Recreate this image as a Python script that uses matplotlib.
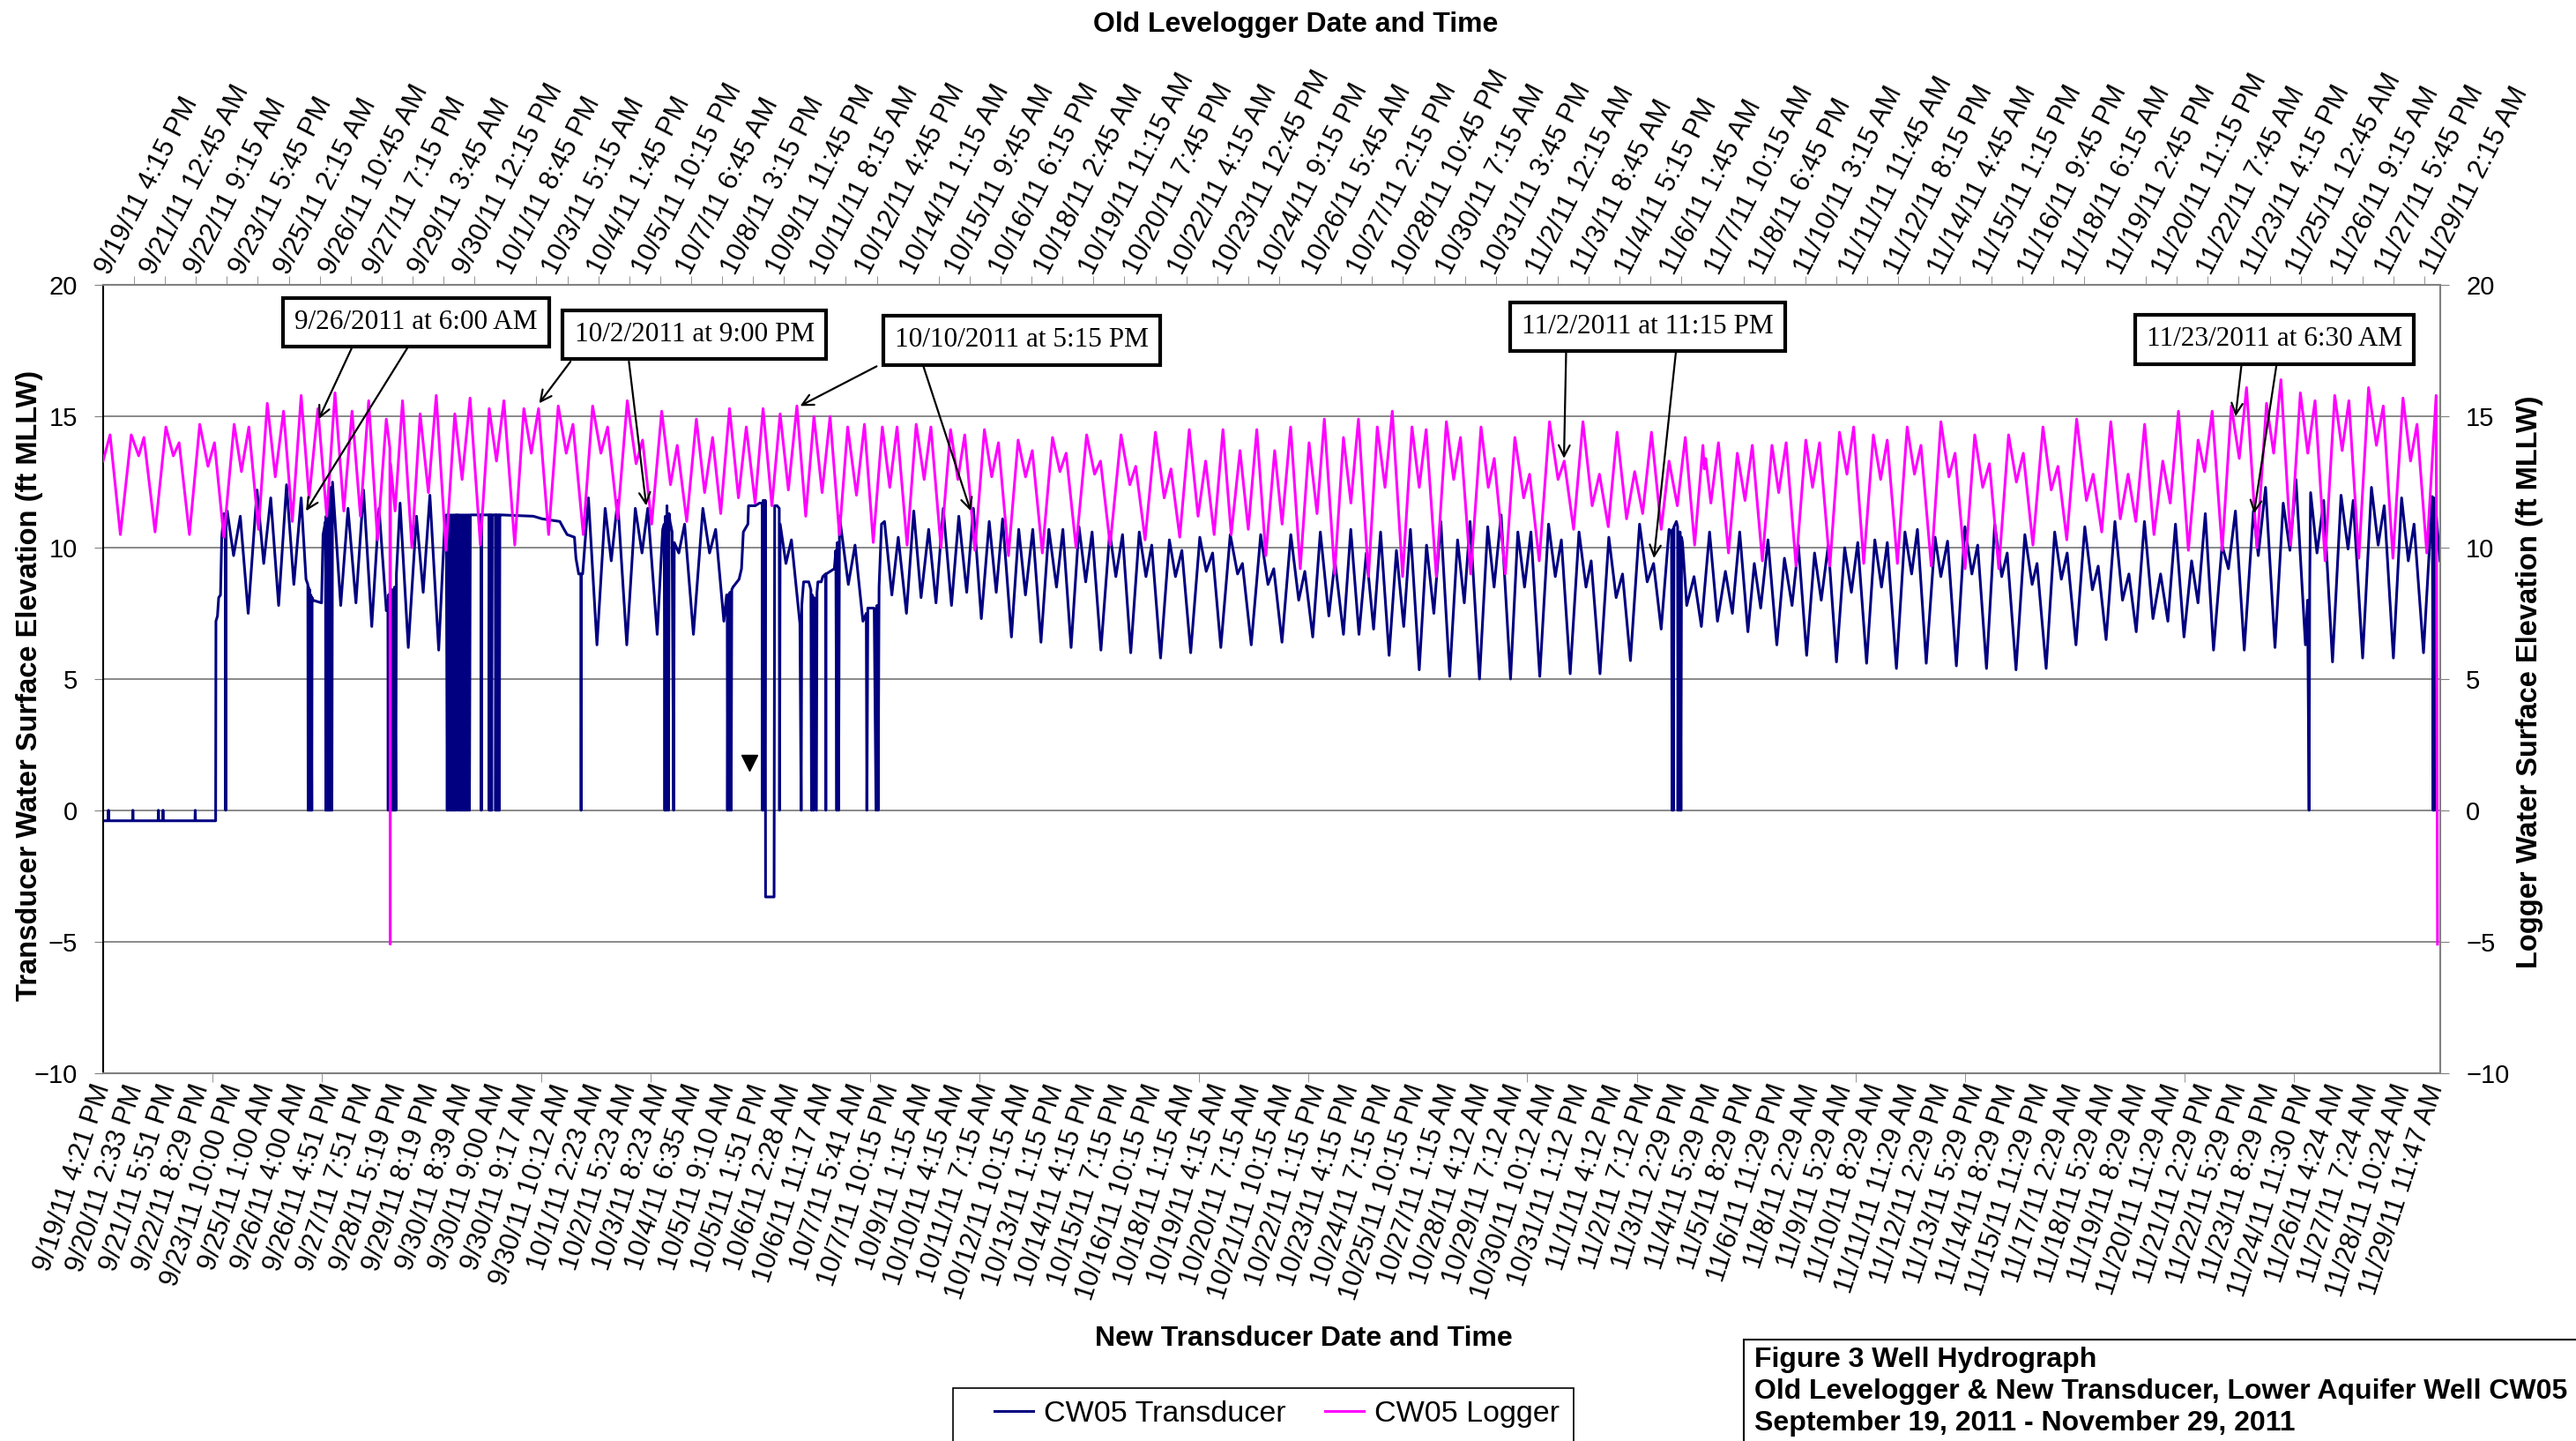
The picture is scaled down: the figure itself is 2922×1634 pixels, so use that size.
import matplotlib.pyplot as plt
from matplotlib.patches import Rectangle

plt.rcParams['font.family'] = ['Liberation Sans', 'DejaVu Sans']

# ---- axis label text -------------------------------------------------------
trans_labels = [
    '9/19/11 4:21 PM', '9/20/11 2:33 PM', '9/21/11 5:51 PM', '9/22/11 8:29 PM',
    '9/23/11 10:00 PM', '9/25/11 1:00 AM', '9/26/11 4:00 AM', '9/26/11 4:51 PM',
    '9/27/11 7:51 PM', '9/28/11 5:19 PM', '9/29/11 8:19 PM', '9/30/11 8:39 AM',
    '9/30/11 9:00 AM', '9/30/11 9:17 AM', '9/30/11 10:12 AM', '10/1/11 2:23 AM',
    '10/2/11 5:23 AM', '10/3/11 8:23 AM', '10/4/11 6:35 AM', '10/5/11 9:10 AM',
    '10/5/11 1:51 PM', '10/6/11 2:28 AM', '10/6/11 11:17 AM', '10/7/11 5:41 AM',
    '10/7/11 10:15 PM', '10/9/11 1:15 AM', '10/10/11 4:15 AM', '10/11/11 7:15 AM',
    '10/12/11 10:15 AM', '10/13/11 1:15 PM', '10/14/11 4:15 PM', '10/15/11 7:15 PM',
    '10/16/11 10:15 PM', '10/18/11 1:15 AM', '10/19/11 4:15 AM', '10/20/11 7:15 AM',
    '10/21/11 10:15 AM', '10/22/11 1:15 PM', '10/23/11 4:15 PM', '10/24/11 7:15 PM',
    '10/25/11 10:15 PM', '10/27/11 1:15 AM', '10/28/11 4:12 AM', '10/29/11 7:12 AM',
    '10/30/11 10:12 AM', '10/31/11 1:12 PM', '11/1/11 4:12 PM', '11/2/11 7:12 PM',
    '11/3/11 2:29 PM', '11/4/11 5:29 PM', '11/5/11 8:29 PM', '11/6/11 11:29 PM',
    '11/8/11 2:29 AM', '11/9/11 5:29 AM', '11/10/11 8:29 AM', '11/11/11 11:29 AM',
    '11/12/11 2:29 PM', '11/13/11 5:29 PM', '11/14/11 8:29 PM', '11/15/11 11:29 PM',
    '11/17/11 2:29 AM', '11/18/11 5:29 AM', '11/19/11 8:29 AM', '11/20/11 11:29 AM',
    '11/21/11 2:29 PM', '11/22/11 5:29 PM', '11/23/11 8:29 PM', '11/24/11 11:30 PM',
    '11/26/11 4:24 AM', '11/27/11 7:24 AM', '11/28/11 10:24 AM', '11/29/11 11:47 AM',
]
logger_labels = [
    '9/19/11 4:15 PM', '9/21/11 12:45 AM', '9/22/11 9:15 AM', '9/23/11 5:45 PM',
    '9/25/11 2:15 AM', '9/26/11 10:45 AM', '9/27/11 7:15 PM', '9/29/11 3:45 AM',
    '9/30/11 12:15 PM', '10/1/11 8:45 PM', '10/3/11 5:15 AM', '10/4/11 1:45 PM',
    '10/5/11 10:15 PM', '10/7/11 6:45 AM', '10/8/11 3:15 PM', '10/9/11 11:45 PM',
    '10/11/11 8:15 AM', '10/12/11 4:45 PM', '10/14/11 1:15 AM', '10/15/11 9:45 AM',
    '10/16/11 6:15 PM', '10/18/11 2:45 AM', '10/19/11 11:15 AM', '10/20/11 7:45 PM',
    '10/22/11 4:15 AM', '10/23/11 12:45 PM', '10/24/11 9:15 PM', '10/26/11 5:45 AM',
    '10/27/11 2:15 PM', '10/28/11 10:45 PM', '10/30/11 7:15 AM', '10/31/11 3:45 PM',
    '11/2/11 12:15 AM', '11/3/11 8:45 AM', '11/4/11 5:15 PM', '11/6/11 1:45 AM',
    '11/7/11 10:15 AM', '11/8/11 6:45 PM', '11/10/11 3:15 AM', '11/11/11 11:45 AM',
    '11/12/11 8:15 PM', '11/14/11 4:45 AM', '11/15/11 1:15 PM', '11/16/11 9:45 PM',
    '11/18/11 6:15 AM', '11/19/11 2:45 PM', '11/20/11 11:15 PM', '11/22/11 7:45 AM',
    '11/23/11 4:15 PM', '11/25/11 12:45 AM', '11/26/11 9:15 AM', '11/27/11 5:45 PM',
    '11/29/11 2:15 AM',
]
trans_label_step = 108      # samples between transducer labels
trans_tick_step = 360
trans_n = 7680              # category count on the transducer axis
logger_label_step = 32.5    # hours between logger labels
logger_tick_step = 22.5
logger_hours = 1699

# ---- transducer record (sample no., ft MLLW) --------------------------------
transducer = [
    (0, -0.4), (17, -0.4), (18, 0), (19, -0.4), (97, -0.4), (98, 0), (99, -0.4),
    (181, -0.4), (182, 0), (183, -0.4), (196, -0.4), (197, 0), (198, -0.4),
    (302, -0.4), (303, 0), (304, -0.4), (370, -0.4), (371, 7.2), (376, 7.4),
    (380, 8.1), (386, 8.2), (390, 10.4), (397, 11.3), (402, 11.0), (403, 0),
    (404, 11.2), (408, 11.4), (429, 9.7), (451, 11.2), (477, 7.5), (506, 12.2),
    (528, 9.4), (551, 11.9), (577, 7.8), (603, 12.4), (627, 8.6), (651, 11.9),
    (667, 8.8), (673, 8.6), (674, 0), (675, 8.5), (678, 0), (679, 8.4), (682, 0),
    (683, 8.2), (686, 0), (687, 8.1), (690, 8.0), (718, 7.9), (723, 10.5),
    (731, 11.0), (732, 0), (733, 11.2), (736, 0), (737, 11.6), (740, 0), (741, 11.9),
    (744, 0), (745, 12.1), (748, 0), (749, 12.3), (752, 0), (754, 12.5),
    (781, 7.8), (805, 11.5), (831, 7.9), (856, 12.2), (883, 7.0), (907, 11.5),
    (931, 7.6), (936, 8.0), (937, 0), (938, 8.2), (942, 0), (943, 8.3), (947, 0),
    (948, 8.4), (952, 0), (953, 8.4), (957, 0), (958, 8.5), (962, 0), (964, 9.0),
    (976, 11.7), (1003, 6.2), (1030, 11.2), (1052, 8.3), (1074, 12.0), (1103, 6.1),
    (1124, 11.2), (1128, 11.25), (1131, 0), (1134, 11.25), (1137, 0), (1140, 11.25),
    (1143, 0), (1146, 11.25), (1149, 0), (1152, 11.25), (1155, 0), (1158, 11.25),
    (1160, 0), (1162, 11.25), (1166, 11.25), (1168, 0), (1171, 11.25), (1174, 0),
    (1177, 11.25), (1180, 0), (1183, 11.25), (1186, 0), (1189, 11.25), (1192, 0),
    (1195, 11.25), (1198, 0), (1201, 11.25), (1204, 0), (1207, 11.25),
    (1242, 11.25), (1243, 0), (1244, 11.25), (1268, 11.25), (1269, 0), (1271, 11.25),
    (1273, 0), (1275, 11.25), (1277, 0), (1279, 11.25), (1289, 11.25), (1290, 0),
    (1292, 11.25), (1294, 0), (1296, 11.25), (1298, 0), (1300, 11.25), (1302, 0),
    (1304, 11.25), (1308, 11.25), (1414, 11.2), (1443, 11.1), (1501, 11.0),
    (1515, 10.7), (1525, 10.5), (1549, 10.4), (1554, 9.6), (1563, 9.0), (1570, 9.0),
    (1571, 0), (1572, 9.0), (1576, 9.0), (1595, 11.9), (1623, 6.3), (1650, 11.5),
    (1670, 9.5), (1691, 11.8), (1721, 6.3), (1749, 11.5), (1771, 9.8), (1790, 11.5),
    (1821, 6.7), (1839, 10.7), (1844, 10.9), (1846, 0), (1848, 11.2), (1851, 0),
    (1853, 11.6), (1858, 0), (1860, 11.3), (1863, 11.0), (1870, 10.6), (1875, 0),
    (1877, 10.2), (1892, 9.8), (1911, 10.9), (1940, 6.7), (1971, 11.5), (1993, 9.8),
    (2013, 10.7), (2040, 7.2), (2049, 8.2), (2051, 8.2), (2052, 0), (2054, 8.2),
    (2058, 0), (2060, 8.3), (2064, 0), (2066, 8.4), (2070, 8.5), (2090, 8.8),
    (2098, 9.2), (2104, 10.6), (2119, 10.9), (2121, 11.6), (2143, 11.6), (2157, 11.7),
    (2166, 11.7), (2167, 0), (2169, 11.8), (2173, 11.8), (2174, 0), (2176, 11.8),
    (2177, -3.3), (2205, -3.3), (2207, 11.6), (2215, 11.6), (2222, 11.5), (2223, 0),
    (2225, 10.9), (2244, 9.4), (2262, 10.3), (2290, 7.1), (2294, 0), (2296, 7.8),
    (2302, 8.7), (2319, 8.7), (2326, 8.4), (2328, 0), (2330, 8.2), (2335, 0),
    (2337, 8.1), (2344, 0), (2346, 8.3), (2349, 8.7), (2360, 8.7), (2365, 8.9),
    (2374, 9.0), (2375, 0), (2376, 9.0), (2403, 9.2), (2408, 9.9), (2411, 0),
    (2413, 10.2), (2417, 0), (2420, 11.2), (2449, 8.6), (2471, 10.1), (2497, 7.2),
    (2508, 7.5), (2510, 0), (2513, 7.7), (2534, 7.7), (2540, 0), (2543, 7.8),
    (2547, 0), (2550, 8.5), (2558, 10.9), (2568, 11.0),
    (2592, 8.2), (2613, 10.4), (2640, 7.5), (2664, 11.4), (2688, 8.1), (2713, 10.7),
    (2737, 7.9), (2761, 11.5), (2788, 7.8), (2812, 11.2), (2838, 8.3), (2860, 11.5),
    (2886, 7.3), (2912, 11.0), (2935, 8.3), (2956, 11.1), (2985, 6.6), (3009, 10.7),
    (3031, 8.2), (3055, 10.7), (3082, 6.4), (3108, 10.7), (3133, 8.5), (3154, 10.7),
    (3181, 6.2), (3207, 10.8), (3229, 8.7), (3250, 10.6), (3279, 6.1), (3308, 10.6),
    (3328, 8.9), (3350, 10.5), (3377, 6.0), (3405, 10.6), (3427, 8.9), (3446, 10.1),
    (3475, 5.8), (3504, 10.3), (3524, 8.9), (3545, 9.9), (3574, 6.0), (3604, 10.4),
    (3625, 9.1), (3646, 9.8), (3673, 6.2), (3704, 10.5), (3728, 9.0), (3744, 9.4),
    (3773, 6.3), (3804, 10.5), (3828, 8.6), (3847, 9.2),
    (3874, 6.4), (3903, 10.5), (3929, 8.0), (3949, 9.1), (3975, 6.6), (4000, 10.6),
    (4028, 7.4), (4048, 9.5), (4076, 6.7), (4100, 10.7), (4127, 6.7), (4151, 9.8),
    (4175, 6.9), (4198, 10.6), (4226, 5.9), (4250, 9.9), (4274, 7.0), (4296, 10.7),
    (4325, 5.35), (4349, 10.1), (4373, 7.5), (4396, 11.0), (4425, 5.1), (4451, 10.3),
    (4473, 7.9), (4492, 11.0), (4523, 5.0), (4550, 10.8), (4571, 8.5), (4594, 11.25),
    (4625, 5.0), (4649, 10.6), (4671, 8.5), (4692, 10.6), (4721, 5.1), (4750, 10.9),
    (4772, 8.9), (4792, 10.3), (4821, 5.2), (4850, 10.6), (4873, 8.5), (4890, 9.5),
    (4919, 5.2), (4948, 10.4), (4972, 8.1), (4993, 9.0), (5019, 5.7), (5049, 10.9),
    (5074, 8.7), (5095, 9.4), (5120, 6.9), (5146, 10.7),
    (5154, 10.6), (5156, 0), (5158, 10.7), (5160, 0), (5162, 10.8), (5170, 11.0),
    (5174, 10.8), (5175, 0), (5177, 10.6), (5180, 0), (5182, 10.6), (5185, 0),
    (5187, 10.4), (5190, 10.2), (5204, 7.8), (5228, 8.9), (5252, 7.0), (5279, 10.6),
    (5305, 7.2), (5331, 9.1), (5354, 7.5), (5378, 10.6), (5405, 6.8), (5426, 9.4),
    (5447, 7.7), (5471, 10.3), (5500, 6.3), (5525, 9.6), (5550, 7.8), (5571, 10.1),
    (5598, 5.9), (5624, 9.8), (5646, 8.0), (5669, 10.1), (5696, 5.65), (5723, 10.0),
    (5745, 8.3), (5766, 10.2), (5795, 5.6), (5822, 10.3), (5844, 8.5), (5863, 10.2),
    (5893, 5.4), (5921, 10.6), (5943, 9.0), (5962, 10.7), (5991, 5.6), (6020, 10.4),
    (6039, 8.9), (6061, 10.25), (6090, 5.5), (6118, 10.8), (6141, 9.0), (6160, 10.1),
    (6189, 5.4), (6216, 10.9), (6239, 8.9), (6257, 9.8), (6286, 5.35), (6315, 10.5),
    (6339, 8.6), (6355, 9.4), (6385, 5.4), (6413, 10.6), (6435, 8.8),
    (6454, 9.8), (6483, 6.3), (6512, 10.8), (6537, 8.4), (6556, 9.3), (6582, 6.5),
    (6611, 11.0), (6636, 8.0), (6657, 9.0), (6681, 6.8), (6708, 11.0), (6736, 7.3),
    (6761, 9.0), (6785, 7.2), (6810, 10.9), (6838, 6.6), (6863, 9.5), (6884, 7.9),
    (6908, 11.3), (6935, 6.1), (6963, 10.1), (6984, 9.2), (7007, 11.4), (7036, 6.1),
    (7066, 11.4), (7082, 9.7), (7106, 12.3), (7137, 6.2), (7164, 11.7), (7186, 9.9),
    (7206, 12.6), (7237, 6.3), (7244, 8.0), (7249, 0), (7251, 8.5), (7254, 12.1),
    (7275, 9.8), (7297, 11.8), (7326, 5.65), (7354, 12.0), (7377, 9.95), (7394, 11.8),
    (7425, 5.8), (7454, 12.3), (7476, 10.1), (7496, 11.6), (7526, 5.8), (7553, 11.9),
    (7575, 9.5), (7594, 10.9), (7625, 6.0), (7654, 11.95), (7657, 0), (7659, 11.9),
    (7661, 0), (7663, 11.8), (7679, 9.5),
]

# ---- old levelogger record (hours after 9/19/11 4:15 PM, ft MLLW) ----------
logger = [
    (0, 13.3), (5.1, 14.3), (12.6, 10.5), (20.5, 14.3), (25.9, 13.5), (29.7, 14.2),
    (37.8, 10.6), (45.7, 14.6), (51.1, 13.5), (55.3, 14.0), (62.8, 10.5), (70.3, 14.7),
    (76.3, 13.1), (81.0, 14.0), (87.8, 10.4), (95.3, 14.7), (100.6, 12.9), (106.0, 14.6),
    (113.0, 10.7), (119.4, 15.5), (125.2, 12.7), (131.2, 15.2), (137.6, 11.0),
    (144.0, 15.8), (149.8, 11.9), (156.2, 15.3), (162.6, 11.2), (168.6, 15.9),
    (175.0, 11.4), (181.0, 15.2), (187.1, 11.2), (193.1, 15.6), (199.5, 10.3),
    (205.9, 14.9), (208.5, 13.8), (208.75, -5.1), (209.0, 13.2), (212.3, 11.4),
    (217.7, 15.6), (224.5, 10.0), (230.5, 15.1), (236.5, 12.1), (242.2, 15.8),
    (249.3, 9.9), (255.7, 15.1), (261.0, 12.6), (266.8, 15.7), (274.3, 10.1),
    (280.7, 15.3), (286.0, 13.3), (291.4, 15.6), (299.3, 10.1), (305.9, 15.3),
    (311.3, 13.6), (316.6, 15.3), (323.9, 10.5), (330.9, 15.4), (336.7, 13.6),
    (341.6, 14.7), (349.1, 10.5), (355.9, 15.4), (361.9, 13.6), (366.8, 14.6),
    (374.1, 11.1), (381.1, 15.6), (387.5, 13.2), (392.2, 14.1), (398.8, 10.9),
    (406.1, 15.2), (412.5, 12.4), (417.4, 13.9), (424.3, 11.0), (431.3, 14.9),
    (437.3, 12.1), (443.1, 14.2), (449.0, 11.3), (455.4, 15.3), (461.9, 11.9),
    (467.6, 14.6), (474.0, 11.7), (479.8, 15.3), (486.2, 11.6), (492.2, 15.1),
    (498.2, 12.2), (504.4, 15.4), (510.8, 11.2), (516.8, 15.0), (522.7, 12.1),
    (528.5, 15.0), (535.3, 10.5), (541.3, 14.6), (547.7, 12.0), (553.5, 14.7),
    (559.9, 10.2), (566.5, 14.6), (571.9, 12.3), (577.2, 14.6), (584.5, 10.1),
    (591.1, 14.7), (596.9, 12.6), (601.8, 14.6), (609.1, 10.0), (616.1, 14.5),
    (621.4, 12.6), (626.4, 14.3), (633.8, 9.9), (640.7, 14.5), (646.0, 12.7),
    (650.9, 14.0), (658.2, 9.7), (665.2, 14.1), (670.6, 12.7), (675.5, 13.7),
    (682.8, 9.8), (690.2, 14.2), (695.6, 12.9), (700.1, 13.6), (707.3, 10.0),
    (715.0, 14.3), (720.8, 12.8), (725.1, 13.3), (732.1, 10.1), (740.0, 14.3),
    (746.4, 12.4), (750.7, 13.1), (757.5, 10.3), (765.0, 14.4), (771.4, 11.9),
    (776.3, 13.0), (782.7, 10.4), (789.6, 14.5), (796.0, 11.2), (801.5, 13.3),
    (807.7, 10.5), (814.1, 14.5), (820.1, 10.5), (826.5, 13.7), (832.5, 10.7),
    (838.7, 14.5), (845.3, 9.7), (851.7, 13.7), (857.1, 10.9), (863.3, 14.6),
    (870.3, 9.2), (876.7, 14.0), (882.5, 11.3), (887.8, 14.9), (895.3, 9.0),
    (901.7, 14.2), (907.1, 11.7), (912.6, 14.9), (919.9, 8.9), (926.3, 14.6),
    (931.9, 12.3), (937.2, 15.2), (944.7, 8.9), (951.5, 14.6), (956.8, 12.3),
    (961.8, 14.5), (969.2, 8.9), (976.5, 14.8), (981.8, 12.6), (986.8, 14.2),
    (994.2, 9.0), (1001.7, 14.6), (1007.0, 12.3), (1011.3, 13.4), (1019.4, 9.0),
    (1026.3, 14.2), (1032.7, 11.9), (1037.0, 12.8), (1044.0, 9.5), (1051.5, 14.8),
    (1057.7, 12.6), (1062.2, 13.3), (1069.0, 10.7), (1075.8, 14.8), (1082.5, 11.6),
    (1087.8, 12.8), (1094.2, 10.8), (1100.6, 14.4), (1107.5, 11.1), (1113.4, 12.9),
    (1119.2, 11.3), (1125.6, 14.4), (1132.7, 10.7), (1138.4, 13.3), (1144.4, 11.6),
    (1150.2, 14.2), (1157.0, 10.1), (1163.0, 13.9), (1164.0, 13.0), (1165.0, 13.4),
    (1168.8, 11.7), (1174.3, 14.0), (1181.6, 9.8), (1188.0, 13.6), (1193.6, 11.8),
    (1198.9, 13.9), (1206.2, 9.5), (1213.2, 13.9), (1218.1, 12.1), (1223.5, 14.0),
    (1230.7, 9.3), (1237.8, 14.1), (1242.7, 12.3), (1247.8, 14.0), (1255.3, 9.3),
    (1262.3, 14.4), (1267.7, 12.8), (1272.6, 14.6), (1279.9, 9.4), (1286.9, 14.3),
    (1292.2, 12.6), (1297.0, 14.1), (1304.4, 9.4), (1311.5, 14.6), (1316.8, 12.8),
    (1321.5, 13.9), (1329.0, 9.3), (1336.0, 14.8), (1341.8, 12.7), (1346.3, 13.6),
    (1353.6, 9.2), (1360.6, 14.3), (1366.4, 12.3), (1371.3, 13.2), (1378.1, 9.2),
    (1385.2, 14.3), (1390.9, 12.5), (1395.9, 13.6), (1402.9, 10.1), (1410.2, 14.6),
    (1416.2, 12.2), (1421.1, 13.1), (1427.5, 10.3), (1434.7, 14.9), (1441.8, 11.8),
    (1446.7, 12.8), (1452.9, 10.6), (1459.5, 14.8), (1466.4, 11.1), (1472.1, 12.8),
    (1477.7, 11.0), (1484.1, 14.7), (1490.9, 10.5), (1497.3, 13.3), (1502.7, 11.7),
    (1508.7, 15.2), (1515.9, 9.9), (1523.0, 14.1), (1527.7, 12.9), (1533.2, 15.2),
    (1540.5, 9.9), (1547.1, 15.4), (1552.9, 13.4), (1558.2, 16.1), (1565.7, 10.0),
    (1572.7, 15.5), (1577.9, 13.6), (1583.2, 16.4), (1590.3, 10.1), (1597.3, 15.9),
    (1602.7, 13.6), (1608.0, 15.6), (1615.3, 9.5), (1622.3, 15.8), (1627.7, 13.7),
    (1632.6, 15.6), (1639.8, 9.6), (1646.9, 16.1), (1652.6, 13.9), (1657.6, 15.4),
    (1664.6, 9.6), (1671.9, 15.7), (1677.4, 13.3), (1682.1, 14.7), (1689.2, 9.8),
    (1696.0, 15.8), (1697.0, -5.1),
]

# callout boxes: text, logger arrow target (h, ft), transducer arrow target (sample, ft)
callout_text = ['9/26/2011 at 6:00 AM', '10/2/2011 at 9:00 PM', '10/10/2011 at 5:15 PM',
                '11/2/2011 at 11:15 PM', '11/23/2011 at 6:30 AM']
callout_logger = [(156.8, 14.9), (317.0, 15.5), (506.7, 15.4), (1062.0, 13.4), (1550.2, 15.0)]
callout_trans = [(667, 11.4), (1785, 11.6), (2851, 11.4), (5096, 9.6), (7068, 11.3)]
marker_idx, marker_val = 2124, 1.8

navy = '#000080'
magenta = '#FF00FF'
grid_gray = '#808080'

fig = plt.figure(figsize=(29.22, 16.34), dpi=100)
rect = [0.040, 0.2555, 0.9073, 0.5466]
ax = fig.add_axes(rect)
ax2 = fig.add_axes(rect, frameon=False)
ax2.patch.set_visible(False)

tx = [p[0] for p in transducer]
ty = [p[1] for p in transducer]
lx = [p[0] for p in logger]
ly = [p[1] for p in logger]

l1, = ax.plot(tx, ty, color=navy, lw=2.2, solid_joinstyle='round')
l2, = ax2.plot(lx, ly, color=magenta, lw=2.2, solid_joinstyle='round')
ax.plot(marker_idx, marker_val, marker='v', color='black', ms=13, ls='none')

ax.set_xlim(0, trans_n)
ax.set_ylim(-10, 20)
ax2.set_xlim(0, logger_hours)
ax2.set_ylim(-10, 20)

ax.set_yticks(range(-10, 25, 5))
ax.grid(axis='y', color=grid_gray, lw=1.3)
ax.set_axisbelow(True)
for s in ax.spines.values():
    s.set_color(grid_gray)
    s.set_linewidth(1.5)
ax.spines['left'].set_color('black')

# bottom (transducer) category axis
ax.set_xticks([i * trans_label_step for i in range(len(trans_labels))])
ax.set_xticklabels(trans_labels, rotation=72, ha='right', va='center',
                   rotation_mode='anchor', fontsize=22)
ax.set_xticks(range(0, trans_n, trans_tick_step), minor=True)
ax.tick_params(axis='x', which='major', length=0, pad=10)
ax.tick_params(axis='x', which='minor', length=7, color=grid_gray)
ax.tick_params(axis='y', labelsize=21, length=7, color=grid_gray, pad=14)

# top (logger) axis
ax2.xaxis.tick_top()
ax2.yaxis.tick_right()
ax2.set_xticks([i * logger_label_step for i in range(len(logger_labels))])
ax2.set_xticklabels(logger_labels, rotation=63, ha='left', va='center',
                    rotation_mode='anchor', fontsize=22)
ax2.set_xticks([i * logger_tick_step for i in range(int(logger_hours / logger_tick_step) + 1)],
               minor=True)
ax2.tick_params(axis='x', which='major', length=0, pad=10)
ax2.tick_params(axis='x', which='minor', length=7, color=grid_gray)
ax2.set_yticks(range(-10, 25, 5))
ax2.tick_params(axis='y', labelsize=21, length=7, color=grid_gray, pad=14)

# axis titles
fig.text(0.503, 0.983, 'Old Levelogger Date and Time', ha='center', va='center',
         fontsize=23, fontweight='bold')
fig.text(0.506, 0.071, 'New Transducer Date and Time', ha='center', va='center',
         fontsize=23, fontweight='bold')
fig.text(0.0115, 0.524, 'Transducer Water Surface Elevation (ft MLLW)', rotation=90,
         ha='center', va='center', fontsize=23.5, fontweight='bold')
fig.text(0.982, 0.527, 'Logger Water Surface Elevation (ft MLLW)', rotation=90,
         ha='center', va='center', fontsize=23.5, fontweight='bold')

# callout boxes with two arrows each
box_pos = [(0.134, 0.953), (0.253, 0.937), (0.393, 0.930), (0.661, 0.947), (0.929, 0.931)]
tails = [((0.107, 0.924), (0.131, 0.924)), ((0.200, 0.903), (0.225, 0.903)),
         ((0.331, 0.897), (0.351, 0.897)), ((0.626, 0.916), (0.673, 0.916)),
         ((0.915, 0.900), (0.930, 0.900))]
arrow = dict(arrowstyle='->,head_length=0.9,head_width=0.45', color='black', lw=1.6,
             shrinkA=0, shrinkB=0)
for txt, bp, (t1, t2), lp, tp in zip(callout_text, box_pos, tails, callout_logger, callout_trans):
    ax2.annotate('', xy=lp, xycoords='data', xytext=t1, textcoords='axes fraction',
                 arrowprops=arrow, zorder=5)
    ax2.annotate('', xy=tp, xycoords=ax.transData, xytext=t2, textcoords='axes fraction',
                 arrowprops=arrow, zorder=5)
    ax2.text(bp[0], bp[1], txt, transform=ax2.transAxes, ha='center', va='center',
             fontsize=22.5, family=['Liberation Serif', 'DejaVu Serif'], zorder=6,
             bbox=dict(boxstyle='square,pad=0.42', fc='white', ec='black', lw=3))

# legend: Excel-style frame drawn separately so the entries can sit inside with padding
fig.patches.append(Rectangle((0.370, -0.01), 0.241, 0.0465, transform=fig.transFigure,
                             fill=False, ec='black', lw=1.2))
fig.legend([l1, l2], ['CW05 Transducer', 'CW05 Logger'], loc='center left',
           bbox_to_anchor=(0.386, 0.0185), ncol=2, fontsize=24.5, frameon=False,
           handlelength=1.3, handletextpad=0.35, columnspacing=1.3, borderpad=0,
           borderaxespad=0)

# figure caption box
fig.patches.append(Rectangle((0.677, -0.01), 0.33, 0.0805, transform=fig.transFigure,
                             fill=False, ec='black', lw=1.5))
fig.text(0.681, 0.0565, 'Figure 3 Well Hydrograph', fontsize=23, fontweight='bold',
         va='center')
fig.text(0.681, 0.034, 'Old Levelogger & New Transducer, Lower Aquifer Well CW05',
         fontsize=23, fontweight='bold', va='center')
fig.text(0.681, 0.012, 'September 19, 2011 - November 29, 2011', fontsize=23,
         fontweight='bold', va='center')

fig.savefig('out.png', dpi=100)
